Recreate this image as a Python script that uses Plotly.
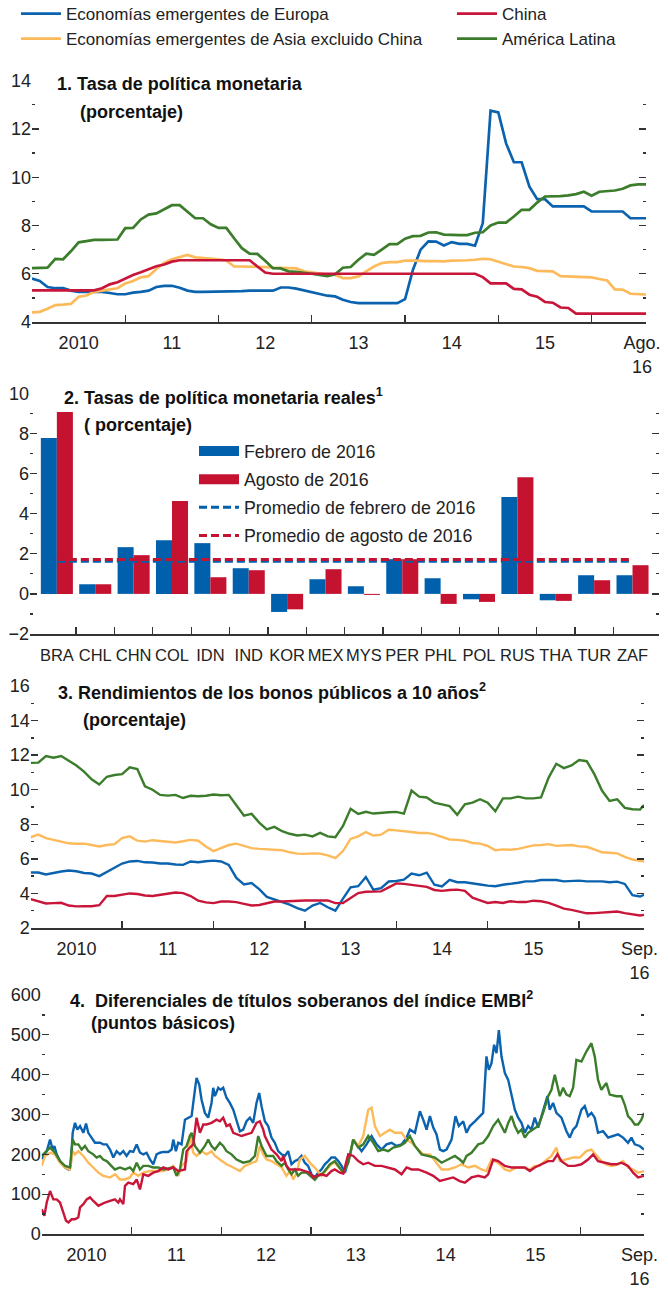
import plotly.graph_objects as go

W, H = 669, 1289
FONT = "Liberation Sans, Arial, sans-serif"
AX = "#333333"

C_EUR = "#0B63B0"
C_CHN = "#C8163A"
C_ASIA = "#FDBA5A"
C_LAT = "#3B7D2B"
C_BAR_B = "#0060AC"
C_BAR_R = "#C41230"

NAMES = ["Economías emergentes de Europa", "China",
         "Economías emergentes de Asia excluido China", "América Latina"]

# ---------------- Panel 1: monthly policy rates, Jan 2010 - Aug 2016 ----------------
p1_months = [2010 + i / 12 for i in range(80)]
p1_europe = [5.8, 5.7, 5.45, 5.4, 5.4, 5.3, 5.25, 5.25, 5.25, 5.25, 5.2, 5.15,
             5.15, 5.22, 5.25, 5.3, 5.45, 5.5, 5.5, 5.42, 5.3, 5.25, 5.25, 5.25,
             5.25, 5.25, 5.25, 5.28, 5.3, 5.3, 5.3, 5.3, 5.43, 5.43, 5.38, 5.3,
             5.24, 5.17, 5.09, 5.06, 4.92, 4.83, 4.78, 4.78, 4.78, 4.78, 4.78, 4.78,
             4.95, 6.15, 7.0, 7.34, 7.33, 7.17, 7.31, 7.24, 7.24, 7.16, 8.1, 12.76,
             12.69, 11.4, 10.62, 10.62, 9.61, 9.09, 9.09, 8.79, 8.79, 8.79, 8.79, 8.79,
             8.58, 8.58, 8.58, 8.58, 8.58, 8.3, 8.3, 8.3]
p1_china = [5.31, 5.31, 5.31, 5.31, 5.31, 5.31, 5.31, 5.31, 5.31, 5.4, 5.56, 5.65,
            5.81, 5.95, 6.06, 6.2, 6.31, 6.38, 6.5, 6.56, 6.56, 6.56, 6.56, 6.56,
            6.56, 6.56, 6.56, 6.56, 6.56, 6.3, 6.05, 6.0, 6.0, 6.0, 6.0, 6.0,
            6.0, 6.0, 6.0, 6.0, 6.0, 6.0, 6.0, 6.0, 6.0, 6.0, 6.0, 6.0,
            6.0, 6.0, 6.0, 6.0, 6.0, 6.0, 6.0, 6.0, 6.0, 6.0, 5.86, 5.6,
            5.6, 5.6, 5.37, 5.35, 5.13, 5.05, 4.83, 4.8, 4.6, 4.58, 4.35, 4.35,
            4.35, 4.35, 4.35, 4.35, 4.35, 4.35, 4.35, 4.35]
p1_asia = [4.4, 4.42, 4.55, 4.7, 4.72, 4.75, 5.05, 5.1, 5.25, 5.3, 5.35, 5.4,
           5.6, 5.7, 5.85, 5.9, 6.2, 6.45, 6.6, 6.7, 6.78, 6.68, 6.65, 6.65,
           6.6, 6.55, 6.3, 6.3, 6.3, 6.28, 6.28, 6.25, 6.25, 6.22, 6.22, 6.1,
           6.05, 5.98, 5.96, 5.96, 5.82, 5.82, 5.89, 6.1, 6.3, 6.44, 6.48, 6.48,
           6.54, 6.54, 6.52, 6.52, 6.52, 6.51, 6.54, 6.54, 6.56, 6.58, 6.62, 6.6,
           6.51, 6.41, 6.3, 6.28, 6.23, 6.12, 6.12, 6.1, 5.9, 5.89, 5.88, 5.87,
           5.85, 5.78, 5.72, 5.35, 5.34, 5.17, 5.14, 5.14]
p1_latam = [6.23, 6.23, 6.25, 6.62, 6.6, 6.93, 7.3, 7.35, 7.4, 7.4, 7.4, 7.42,
            7.89, 7.9, 8.25, 8.45, 8.5, 8.68, 8.84, 8.84, 8.58, 8.3, 8.3, 8.05,
            7.9, 7.9, 7.47, 7.06, 6.83, 6.82, 6.54, 6.23, 6.22, 6.1, 6.08, 6.05,
            6.0, 5.95, 5.9, 5.98, 6.25, 6.28, 6.58, 6.83, 6.78, 7.0, 7.23, 7.23,
            7.45, 7.56, 7.57, 7.71, 7.72, 7.62, 7.6, 7.6, 7.6, 7.7, 7.72, 8.0,
            8.12, 8.12, 8.37, 8.65, 8.65, 8.95, 9.2, 9.2, 9.22, 9.25, 9.3, 9.4,
            9.23, 9.4, 9.43, 9.45, 9.52, 9.66, 9.7, 9.7]

# ---------------- Panel 2: real policy rates ----------------
p2_countries = ["BRA", "CHL", "CHN", "COL", "IDN", "IND", "KOR", "MEX",
                "MYS", "PER", "PHL", "POL", "RUS", "THA", "TUR", "ZAF"]
p2_feb = [7.77, 0.48, 2.33, 2.68, 2.53, 1.28, -0.90, 0.73,
          0.38, 1.73, 0.78, -0.27, 4.83, -0.32, 0.93, 0.93]
p2_aug = [9.07, 0.48, 1.93, 4.63, 0.83, 1.18, -0.77, 1.23,
          -0.05, 1.73, -0.50, -0.40, 5.82, -0.35, 0.68, 1.43]
p2_avg_feb = 1.63
p2_avg_aug = 1.72
p2_labels = ["Febrero de 2016", "Agosto de 2016",
             "Promedio de febrero de 2016", "Promedio de agosto de 2016"]

# ---------------- Panel 3: 10-year yields, monthly Jan 2010 - Sep 2016 ----------------
p3_t = [2010 + i / 12 for i in range(81)] + [2016.71]
p3_europe = [5.21, 5.21, 5.1, 5.2, 5.27, 5.33, 5.28, 5.18, 5.15, 5.0, 5.25, 5.48,
             5.73, 5.85, 5.88, 5.8, 5.79, 5.73, 5.73, 5.67, 5.65, 5.85, 5.8, 5.86,
             5.9, 5.85, 5.65, 4.9, 4.52, 4.6, 4.25, 3.8, 3.65, 3.52, 3.35, 3.15,
             3.0, 3.3, 3.45, 3.2, 3.0, 3.7, 4.35, 4.42, 4.95, 4.21, 4.3, 4.69,
             4.72, 4.8, 5.15, 5.05, 5.2, 4.5, 4.4, 4.78, 4.65, 4.65, 4.6, 4.52,
             4.45, 4.42, 4.5, 4.55, 4.62, 4.7, 4.7, 4.78, 4.76, 4.78, 4.7, 4.72,
             4.74, 4.7, 4.7, 4.7, 4.65, 4.68, 4.55, 3.9, 3.82, 3.92]
p3_china = [3.67, 3.55, 3.42, 3.44, 3.46, 3.3, 3.25, 3.26, 3.26, 3.32, 3.85, 3.85,
            3.92, 4.0, 3.97, 3.88, 3.85, 3.92, 3.98, 4.05, 4.02, 3.85, 3.58, 3.48,
            3.44, 3.53, 3.53, 3.5, 3.4, 3.3, 3.33, 3.44, 3.53, 3.53, 3.56, 3.59,
            3.59, 3.59, 3.6, 3.6, 3.44, 3.45, 3.73, 4.02, 4.1, 4.1, 4.12, 4.35,
            4.58, 4.55, 4.5, 4.45, 4.38, 4.2, 4.15, 4.2, 4.22, 4.15, 3.75, 3.6,
            3.45, 3.5, 3.45, 3.55, 3.5, 3.5, 3.58, 3.55, 3.45, 3.3, 3.12, 3.05,
            2.95, 2.85, 2.86, 2.88, 2.92, 2.95, 2.86, 2.78, 2.72, 2.76]
p3_asia = [7.25, 7.4, 7.2, 7.1, 7.0, 6.9, 6.87, 6.88, 6.8, 6.72, 6.8, 6.85,
           7.2, 7.3, 7.05, 7.0, 7.08, 7.05, 7.0, 6.95, 7.02, 7.1, 7.05, 6.72,
           6.45, 6.62, 6.8, 6.88, 6.75, 6.62, 6.58, 6.56, 6.55, 6.5, 6.38, 6.3,
           6.29, 6.32, 6.3, 6.2, 6.04, 6.45, 7.15, 7.3, 7.55, 7.35, 7.4, 7.68,
           7.65, 7.62, 7.55, 7.5, 7.5, 7.42, 7.25, 7.12, 7.1, 7.05, 6.92, 6.88,
           6.75, 6.5, 6.55, 6.53, 6.58, 6.68, 6.78, 6.8, 6.85, 6.75, 6.78, 6.8,
           6.72, 6.7, 6.55, 6.38, 6.35, 6.32, 6.12, 5.96, 5.88, 5.85]
p3_latam = [11.55, 11.57, 11.95, 11.85, 11.95, 11.7, 11.4, 11.05, 10.6, 10.3, 10.75, 10.85,
            10.9, 11.3, 11.2, 10.2, 10.0, 9.7, 9.66, 9.7, 9.52, 9.65, 9.62, 9.65,
            9.72, 9.68, 9.7, 9.1, 8.5, 8.6, 8.1, 7.7, 7.85, 7.6, 7.45, 7.35,
            7.4, 7.3, 7.5, 7.3, 7.25, 7.9, 8.9, 8.6, 8.72, 8.62, 8.68, 8.7,
            8.72, 8.62, 9.95, 9.6, 9.55, 9.25, 9.15, 9.05, 8.55, 9.15, 9.25, 9.45,
            9.25, 8.75, 9.5, 9.5, 9.6, 9.5, 9.5, 9.55, 10.7, 11.5, 11.25, 11.4,
            11.72, 11.65, 10.9, 9.95, 9.35, 9.45, 8.95, 8.87, 8.85, 9.12]

# ---------------- Panel 4: EMBI spreads (dates as decimal years) ----------------
p4_europe_t = [2010.000, 2010.056, 2010.093, 2010.122, 2010.141, 2010.167, 2010.204, 2010.260, 2010.297, 2010.323,
               2010.345, 2010.371, 2010.397, 2010.427, 2010.464, 2010.494, 2010.519, 2010.557, 2010.594, 2010.649,
               2010.686, 2010.724, 2010.761, 2010.798, 2010.835, 2010.872, 2010.909, 2010.946, 2010.983, 2011.020,
               2011.058, 2011.095, 2011.132, 2011.169, 2011.206, 2011.243, 2011.280, 2011.317, 2011.354, 2011.410,
               2011.447, 2011.466, 2011.495, 2011.521, 2011.558, 2011.596, 2011.633, 2011.670, 2011.707, 2011.725,
               2011.755, 2011.781, 2011.818, 2011.855, 2011.892, 2011.911, 2011.930, 2011.967, 2011.993, 2012.022,
               2012.059, 2012.096, 2012.134, 2012.171, 2012.208, 2012.245, 2012.282, 2012.319, 2012.356, 2012.393,
               2012.423, 2012.449, 2012.486, 2012.523, 2012.560, 2012.597, 2012.635, 2012.672, 2012.709, 2012.746,
               2012.783, 2012.820, 2012.857, 2012.894, 2012.931, 2012.968, 2013.006, 2013.043, 2013.080, 2013.117,
               2013.154, 2013.191, 2013.228, 2013.267, 2013.304, 2013.341, 2013.378, 2013.434, 2013.471, 2013.508,
               2013.564, 2013.619, 2013.675, 2013.731, 2013.786, 2013.842, 2013.898, 2013.953, 2014.009, 2014.065,
               2014.102, 2014.158, 2014.213, 2014.250, 2014.288, 2014.325, 2014.362, 2014.399, 2014.436, 2014.473,
               2014.510, 2014.566, 2014.610, 2014.647, 2014.696, 2014.733, 2014.770, 2014.826, 2014.881, 2014.918,
               2014.955, 2014.981, 2015.011, 2015.040, 2015.067, 2015.093, 2015.122, 2015.160, 2015.197, 2015.234,
               2015.271, 2015.308, 2015.345, 2015.382, 2015.419, 2015.456, 2015.493, 2015.531, 2015.568, 2015.605,
               2015.634, 2015.660, 2015.697, 2015.734, 2015.790, 2015.846, 2015.883, 2015.920, 2015.957, 2016.013,
               2016.050, 2016.087, 2016.124, 2016.161, 2016.198, 2016.254, 2016.310, 2016.365, 2016.421, 2016.477,
               2016.532, 2016.570, 2016.607, 2016.662, 2016.710]
p4_europe_v = [188, 208, 237, 212, 221, 200, 183, 167, 162, 171,
               254, 279, 262, 271, 254, 277, 254, 242, 229, 229,
               225, 225, 212, 192, 208, 200, 208, 196, 208, 206,
               225, 204, 200, 204, 187, 175, 200, 204, 206, 206,
               212, 237, 208, 229, 225, 287, 292, 296, 362, 392,
               375, 337, 304, 292, 329, 367, 346, 367, 362, 367,
               342, 329, 312, 287, 258, 262, 283, 292, 279, 329,
               354, 321, 283, 271, 242, 229, 208, 200, 196, 208,
               175, 183, 187, 196, 179, 171, 150, 142, 154, 162,
               175, 183, 192, 192, 183, 171, 154, 196, 237, 225,
               208, 225, 246, 225, 212, 225, 229, 221, 225, 242,
               262, 254, 308, 287, 262, 296, 267, 250, 212, 208,
               212, 237, 296, 271, 283, 254, 271, 283, 296, 304,
               446, 412, 429, 475, 454, 512, 446, 404, 387, 346,
               312, 292, 279, 254, 271, 262, 292, 267, 296, 321,
               346, 312, 329, 304, 292, 258, 242, 262, 271, 312,
               321, 296, 304, 292, 254, 258, 242, 246, 250, 242,
               229, 242, 225, 221, 212]

p4_latam_t = [2010.000, 2010.056, 2010.093, 2010.148, 2010.204, 2010.260, 2010.315, 2010.345, 2010.371, 2010.408,
              2010.445, 2010.482, 2010.519, 2010.575, 2010.612, 2010.649, 2010.686, 2010.724, 2010.761, 2010.816,
              2010.872, 2010.928, 2010.983, 2011.020, 2011.058, 2011.095, 2011.132, 2011.187, 2011.243, 2011.299,
              2011.354, 2011.410, 2011.466, 2011.503, 2011.540, 2011.577, 2011.614, 2011.651, 2011.670, 2011.707,
              2011.763, 2011.818, 2011.855, 2011.892, 2011.930, 2011.985, 2012.022, 2012.059, 2012.115, 2012.171,
              2012.245, 2012.319, 2012.375, 2012.412, 2012.449, 2012.505, 2012.579, 2012.616, 2012.672, 2012.709,
              2012.746, 2012.783, 2012.820, 2012.857, 2012.894, 2012.950, 2013.006, 2013.043, 2013.080, 2013.117,
              2013.154, 2013.210, 2013.265, 2013.323, 2013.360, 2013.415, 2013.471, 2013.527, 2013.582, 2013.638,
              2013.694, 2013.749, 2013.805, 2013.861, 2013.916, 2013.991, 2014.046, 2014.102, 2014.158, 2014.232,
              2014.306, 2014.380, 2014.455, 2014.529, 2014.603, 2014.658, 2014.696, 2014.733, 2014.788, 2014.863,
              2014.918, 2014.974, 2015.030, 2015.085, 2015.122, 2015.160, 2015.197, 2015.234, 2015.271, 2015.308,
              2015.345, 2015.382, 2015.419, 2015.475, 2015.531, 2015.586, 2015.642, 2015.679, 2015.716, 2015.746,
              2015.772, 2015.809, 2015.846, 2015.883, 2015.920, 2015.957, 2016.013, 2016.068, 2016.124, 2016.161,
              2016.198, 2016.235, 2016.291, 2016.328, 2016.403, 2016.458, 2016.495, 2016.532, 2016.570, 2016.607,
              2016.644, 2016.681, 2016.710]
p4_latam_v = [196, 208, 217, 204, 183, 171, 167, 237, 225, 225,
              212, 221, 208, 200, 192, 196, 187, 183, 175, 162,
              167, 162, 167, 158, 179, 162, 171, 171, 167, 167,
              162, 164, 167, 146, 162, 212, 221, 246, 254, 221,
              204, 221, 237, 221, 212, 229, 221, 208, 200, 187,
              179, 183, 196, 246, 221, 196, 196, 183, 171, 179,
              162, 150, 162, 146, 154, 154, 142, 136, 146, 150,
              158, 175, 183, 167, 154, 179, 237, 217, 225, 246,
              229, 208, 212, 208, 217, 221, 229, 246, 221, 200,
              196, 192, 179, 187, 196, 187, 179, 196, 204, 225,
              229, 246, 271, 287, 271, 254, 279, 296, 271, 254,
              262, 242, 254, 262, 271, 304, 346, 362, 400, 371,
              346, 367, 350, 346, 367, 437, 433, 458, 479, 446,
              387, 362, 379, 350, 346, 346, 325, 296, 287, 275,
              275, 287, 304]

p4_asia_t = [2010.000, 2010.037, 2010.093, 2010.148, 2010.204, 2010.260, 2010.315, 2010.345, 2010.371, 2010.408,
             2010.464, 2010.519, 2010.575, 2010.631, 2010.686, 2010.761, 2010.816, 2010.872, 2010.928, 2010.983,
             2011.020, 2011.076, 2011.132, 2011.206, 2011.280, 2011.354, 2011.410, 2011.466, 2011.521, 2011.558,
             2011.614, 2011.651, 2011.688, 2011.725, 2011.781, 2011.837, 2011.892, 2011.930, 2011.985, 2012.059,
             2012.134, 2012.208, 2012.263, 2012.338, 2012.393, 2012.430, 2012.468, 2012.505, 2012.560, 2012.616,
             2012.672, 2012.727, 2012.764, 2012.801, 2012.839, 2012.876, 2012.931, 2012.987, 2013.061, 2013.117,
             2013.173, 2013.228, 2013.265, 2013.323, 2013.360, 2013.415, 2013.471, 2013.527, 2013.582, 2013.638,
             2013.675, 2013.712, 2013.768, 2013.824, 2013.879, 2013.935, 2014.009, 2014.065, 2014.121, 2014.195,
             2014.250, 2014.325, 2014.380, 2014.455, 2014.529, 2014.603, 2014.677, 2014.751, 2014.826, 2014.900,
             2014.955, 2015.011, 2015.048, 2015.104, 2015.160, 2015.215, 2015.290, 2015.364, 2015.438, 2015.493,
             2015.549, 2015.605, 2015.679, 2015.734, 2015.772, 2015.846, 2015.920, 2015.994, 2016.068, 2016.124,
             2016.180, 2016.235, 2016.291, 2016.347, 2016.421, 2016.477, 2016.532, 2016.588, 2016.644, 2016.710]
p4_asia_v = [171, 196, 204, 200, 179, 167, 162, 208, 200, 208,
             196, 179, 167, 154, 146, 142, 150, 137, 137, 142,
             154, 146, 154, 158, 158, 158, 162, 171, 146, 171,
             183, 250, 204, 196, 208, 200, 208, 196, 187, 175,
             167, 158, 171, 179, 183, 221, 200, 187, 183, 175,
             167, 146, 158, 137, 152, 187, 196, 179, 162, 146,
             162, 175, 179, 162, 154, 179, 237, 221, 246, 312,
             317, 271, 246, 254, 262, 254, 254, 237, 229, 212,
             200, 200, 183, 162, 162, 167, 175, 167, 171, 162,
             158, 187, 183, 175, 162, 158, 167, 167, 162, 171,
             171, 183, 196, 217, 183, 187, 192, 192, 208, 212,
             196, 183, 175, 171, 175, 183, 167, 162, 154, 158]

p4_china_t = [2010.000, 2010.030, 2010.056, 2010.093, 2010.130, 2010.167, 2010.204, 2010.241, 2010.271, 2010.297,
              2010.334, 2010.371, 2010.408, 2010.427, 2010.464, 2010.501, 2010.538, 2010.575, 2010.631, 2010.668,
              2010.705, 2010.761, 2010.816, 2010.853, 2010.872, 2010.909, 2010.928, 2010.965, 2011.020, 2011.058,
              2011.095, 2011.132, 2011.187, 2011.243, 2011.299, 2011.354, 2011.410, 2011.466, 2011.521, 2011.596,
              2011.614, 2011.651, 2011.688, 2011.725, 2011.763, 2011.800, 2011.837, 2011.892, 2011.948, 2011.985,
              2012.022, 2012.059, 2012.096, 2012.134, 2012.171, 2012.226, 2012.282, 2012.338, 2012.393, 2012.430,
              2012.468, 2012.486, 2012.523, 2012.560, 2012.616, 2012.672, 2012.690, 2012.727, 2012.764, 2012.820,
              2012.876, 2012.931, 2012.987, 2013.024, 2013.061, 2013.117, 2013.173, 2013.228, 2013.265, 2013.323,
              2013.360, 2013.415, 2013.471, 2013.527, 2013.582, 2013.638, 2013.712, 2013.786, 2013.861, 2013.935,
              2014.009, 2014.065, 2014.121, 2014.195, 2014.288, 2014.362, 2014.436, 2014.510, 2014.584, 2014.658,
              2014.714, 2014.788, 2014.863, 2014.937, 2014.974, 2015.030, 2015.085, 2015.160, 2015.234, 2015.308,
              2015.382, 2015.438, 2015.493, 2015.568, 2015.642, 2015.697, 2015.746, 2015.790, 2015.865, 2015.939,
              2016.013, 2016.087, 2016.143, 2016.198, 2016.273, 2016.347, 2016.403, 2016.458, 2016.532, 2016.588,
              2016.644, 2016.710]
p4_china_v = [62, 46, 79, 108, 87, 87, 79, 54, 33, 29,
              37, 37, 42, 67, 75, 87, 92, 83, 71, 75,
              79, 83, 87, 79, 87, 75, 121, 129, 125, 137,
              112, 150, 146, 154, 158, 167, 162, 167, 158, 162,
              208, 217, 225, 292, 254, 275, 275, 279, 287, 283,
              292, 271, 275, 254, 250, 246, 250, 254, 279, 283,
              262, 246, 229, 212, 200, 183, 196, 171, 162, 162,
              162, 158, 154, 142, 146, 150, 146, 158, 162, 154,
              152, 200, 196, 183, 175, 179, 171, 171, 167, 162,
              150, 167, 162, 162, 154, 146, 133, 137, 142, 133,
              129, 142, 146, 142, 150, 187, 183, 171, 167, 167,
              167, 158, 167, 175, 183, 183, 200, 183, 171, 171,
              175, 187, 200, 183, 179, 175, 175, 179, 171, 154,
              142, 146]

fig = go.Figure()


def px_x(p):
    return p / W


def px_y(p):
    return 1 - p / H


# ---------------- traces ----------------
series_info = [
    (NAMES[0], C_EUR, "legend", 1, p1_europe, p3_europe, p4_europe_t, p4_europe_v),
    (NAMES[2], C_ASIA, "legend", 2, p1_asia, p3_asia, p4_asia_t, p4_asia_v),
    (NAMES[3], C_LAT, "legend3", 2, p1_latam, p3_latam, p4_latam_t, p4_latam_v),
    (NAMES[1], C_CHN, "legend3", 1, p1_china, p3_china, p4_china_t, p4_china_v),
]
for name, col, leg, rank, v1, v3, t4, v4 in series_info:
    fig.add_trace(go.Scatter(x=p1_months, y=v1, mode="lines", name=name,
                             line=dict(color=col, width=2.7), legend=leg, legendrank=rank,
                             legendgroup=name, xaxis="x", yaxis="y"))
    fig.add_trace(go.Scatter(x=p3_t, y=v3, mode="lines", name=name, showlegend=False,
                             line=dict(color=col, width=2.4), legendgroup=name,
                             xaxis="x3", yaxis="y3"))
    fig.add_trace(go.Scatter(x=t4, y=v4, mode="lines", name=name, showlegend=False,
                             line=dict(color=col, width=2.4), legendgroup=name,
                             xaxis="x4", yaxis="y4"))

xs = list(range(len(p2_countries)))
fig.add_trace(go.Bar(x=xs, y=p2_feb, name=p2_labels[0], marker=dict(color=C_BAR_B, line=dict(width=0)),
                     showlegend=False, xaxis="x2", yaxis="y2", offsetgroup="a"))
fig.add_trace(go.Bar(x=xs, y=p2_aug, name=p2_labels[1], marker=dict(color=C_BAR_R, line=dict(width=0)),
                     showlegend=False, xaxis="x2", yaxis="y2", offsetgroup="b"))
# legend swatches for the bars
fig.add_trace(go.Scatter(x=[None], y=[None], mode="lines", name=p2_labels[0],
                         line=dict(color=C_BAR_B, width=10), legend="legend2", legendrank=1,
                         legendgroup="g1", xaxis="x2", yaxis="y2"))
fig.add_trace(go.Scatter(x=[None], y=[None], mode="lines", name=p2_labels[1],
                         line=dict(color=C_BAR_R, width=10), legend="legend2", legendrank=2,
                         legendgroup="g2", xaxis="x2", yaxis="y2"))
fig.add_trace(go.Scatter(x=[xs[0], xs[-1]], y=[p2_avg_feb, p2_avg_feb], mode="lines", name=p2_labels[2],
                         line=dict(color=C_BAR_B, width=3, dash="8px,4px"), legend="legend2", legendrank=3,
                         legendgroup="g3", xaxis="x2", yaxis="y2"))
fig.add_trace(go.Scatter(x=[xs[0], xs[-1]], y=[p2_avg_aug, p2_avg_aug], mode="lines", name=p2_labels[3],
                         line=dict(color=C_BAR_R, width=3, dash="8px,4px"), legend="legend2", legendrank=4,
                         legendgroup="g4", xaxis="x2", yaxis="y2"))

# ---------------- axes ----------------
tickfont = dict(family=FONT, size=18, color="#222")


def time_xaxis(domain, anchor, end, end_label, end_pos):
    return dict(domain=domain, anchor=anchor, range=[2010, end], automargin=False,
                tickmode="array",
                tickvals=[2010.5, 2011.5, 2012.5, 2013.5, 2014.5, 2015.5, end_pos],
                ticktext=["2010", "11", "12", "13", "14", "15", end_label],
                ticks="", showline=True, linecolor=AX, linewidth=1.5, tickangle=0,
                showgrid=False, zeroline=False, tickfont=tickfont, ticklabelstandoff=4,
                minor=dict(tickmode="array", tickvals=[2011, 2012, 2013, 2014, 2015, 2016],
                           ticks="inside", ticklen=7, tickwidth=1.3, tickcolor=AX, showgrid=False))


def value_yaxis(domain, anchor, rng, major, minor, text=None):
    d = dict(domain=domain, anchor=anchor, range=rng, tickmode="array", tickvals=major,
             automargin=False,
             ticks="inside", ticklen=7, tickwidth=1.3, tickcolor=AX, mirror="ticks",
             showline=False, showgrid=False, zeroline=False, tickfont=tickfont,
             minor=dict(tickmode="array", tickvals=minor, ticks="inside", ticklen=3,
                        tickwidth=1.3, tickcolor=AX, showgrid=False))
    if text is not None:
        d["ticktext"] = text
    return d


d1x = [px_x(32), px_x(646)]
d1y = [px_y(322), px_y(80.7)]
d2x = [px_x(30), px_x(659)]
d2y = [px_y(634), px_y(393.3)]
d3x = [px_x(30.7), px_x(644)]
d3y = [px_y(928), px_y(686)]
d4x = [px_x(41.7), px_x(644)]
d4y = [px_y(1234), px_y(995)]

legend_font = dict(family=FONT, size=17, color="#222")
layout = dict(
    width=W, height=H, autosize=False,
    margin=dict(l=0, r=0, t=0, b=0, autoexpand=False),
    paper_bgcolor="white", plot_bgcolor="rgba(0,0,0,0)",
    font=dict(family=FONT, size=18, color="#222"),
    barmode="group", bargap=0.165, bargroupgap=0,
    xaxis=time_xaxis(d1x, "y", 2016.5833, "Ago.<br>16", 2016.54),
    yaxis=value_yaxis(d1y, "x", [4, 14], [4, 6, 8, 10, 12, 14], [5, 7, 9, 11, 13]),
    xaxis2=dict(domain=d2x, anchor="y2", range=[-0.7, 15.69], tickmode="array", automargin=False,
                tickvals=xs, ticktext=p2_countries, ticks="", showline=True, tickangle=0,
                linecolor=AX, linewidth=1.5, showgrid=False, zeroline=False,
                tickfont=dict(family=FONT, size=16.5, color="#222"), ticklabelstandoff=6,
                minor=dict(tickmode="array", tickvals=[i + 0.5 for i in xs[:-1]],
                           ticks="inside", ticklen=7, tickwidth=1.3, tickcolor=AX, showgrid=False)),
    yaxis2=value_yaxis(d2y, "x2", [-2, 10], [-2, 0, 2, 4, 6, 8, 10], [-1, 1, 3, 5, 7, 9],
                       ["\u22122", "0", "2", "4", "6", "8", "10"]),
    xaxis3=time_xaxis(d3x, "y3", 2016.71, "Sep.<br>16", 2016.66),
    yaxis3=value_yaxis(d3y, "x3", [2, 16], [2, 4, 6, 8, 10, 12, 14, 16], [3, 5, 7, 9, 11, 13, 15]),
    xaxis4=time_xaxis(d4x, "y4", 2016.71, "Sep.<br>16", 2016.66),
    yaxis4=value_yaxis(d4y, "x4", [0, 600], [0, 100, 200, 300, 400, 500, 600],
                       [50, 150, 250, 350, 450, 550]),
    legend=dict(x=px_x(16), y=px_y(-4), xanchor="left", yanchor="top", orientation="v",
                bgcolor="rgba(0,0,0,0)", font=legend_font,
                itemwidth=40, tracegroupgap=3, traceorder="normal"),
    legend3=dict(x=px_x(452), y=px_y(-4), xanchor="left", yanchor="top", orientation="v",
                 bgcolor="rgba(0,0,0,0)", font=legend_font,
                 itemwidth=40, tracegroupgap=3, traceorder="normal"),
    legend2=dict(x=px_x(194), y=px_y(433), xanchor="left", yanchor="top", orientation="v",
                 bgcolor="rgba(0,0,0,0)", font=dict(family=FONT, size=17.8, color="#222"),
                 itemwidth=40, tracegroupgap=2, traceorder="grouped"),
    showlegend=True,
)
fig.update_layout(**layout)

# ---------------- titles ----------------
titles = [
    ("<b>1. Tasa de política monetaria</b>", 55, 84),
    ("<b>(porcentaje)</b>", 78, 112),
    ("<b>2. Tasas de política monetaria reales<sup>1</sup></b>", 62, 396),
    ("<b>( porcentaje)</b>", 82, 425),
    ("<b>3. Rendimientos de los bonos públicos a 10 años<sup>2</sup></b>", 56, 691),
    ("<b>(porcentaje)</b>", 81, 720),
    ("<b>4.  Diferenciales de títulos soberanos del índice EMBI<sup>2</sup></b>", 68, 999),
    ("<b>(puntos básicos)</b>", 89, 1023),
]
for text, x, y in titles:
    fig.add_annotation(text=text, x=px_x(x), y=px_y(y), xref="paper", yref="paper",
                       xanchor="left", yanchor="middle", showarrow=False,
                       font=dict(family=FONT, size=18, color="#111"))

# the page's default 8px body margin would shift the fixed-size figure
fig.write_html("out.html",
               config={"displayModeBar": False, "staticPlot": True},
               post_script="document.body.style.margin='0px';document.body.style.overflow='hidden';")
